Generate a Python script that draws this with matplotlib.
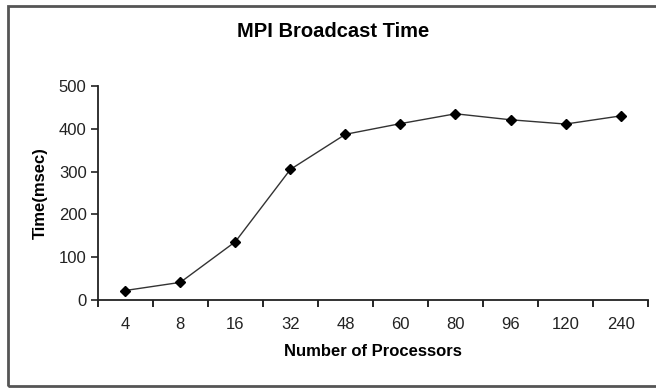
import matplotlib.pyplot as plt
from matplotlib.patches import Rectangle
import numpy as np

processors = ["4", "8", "16", "32", "48", "60", "80", "96", "120", "240"]
time_msec = [22, 41, 136, 305, 387, 412, 435, 421, 411, 430]

plt.rcParams["font.family"] = ["Liberation Sans", "DejaVu Sans"]

fig = plt.figure(figsize=(6.56, 3.89), dpi=100)
ax = fig.add_axes([0.149, 0.229, 0.839, 0.55])

x = np.arange(len(processors))
ax.plot(x, time_msec, color="#333333", linewidth=1.0, marker="D", markersize=5,
        markerfacecolor="black", markeredgecolor="black")

ax.set_xlim(-0.5, len(processors) - 0.5)
ax.set_ylim(0, 500)
ax.set_yticks([0, 100, 200, 300, 400, 500])
ax.set_xticks(x)
ax.set_xticklabels(processors)
ax.set_xticks(np.arange(-0.5, len(processors)), minor=True)
ax.tick_params(axis="x", which="major", length=0, pad=12, labelsize=12, colors="#222222")
ax.tick_params(axis="x", which="minor", length=5, direction="out", width=1.2)
ax.tick_params(axis="y", length=5, direction="out", width=1.2, labelsize=12, pad=3,
               colors="#222222")

for s in ["top", "right"]:
    ax.spines[s].set_visible(False)
for s in ["left", "bottom"]:
    ax.spines[s].set_linewidth(1.3)
    ax.spines[s].set_color("#222222")

ax.set_xlabel("Number of Processors", fontsize=12, fontweight="bold", labelpad=9)
ax.set_ylabel("Time(msec)", fontsize=12, fontweight="bold", labelpad=8)
fig.text(0.508, 0.918, "MPI Broadcast Time", ha="center", va="center",
         fontsize=14.5, fontweight="bold")

fig.patches.append(Rectangle((8 / 656, 3 / 389), 660 / 656, 380 / 389,
                             transform=fig.transFigure, fill=False,
                             edgecolor="#555555", linewidth=2))

fig.savefig("out.png", dpi=100)
